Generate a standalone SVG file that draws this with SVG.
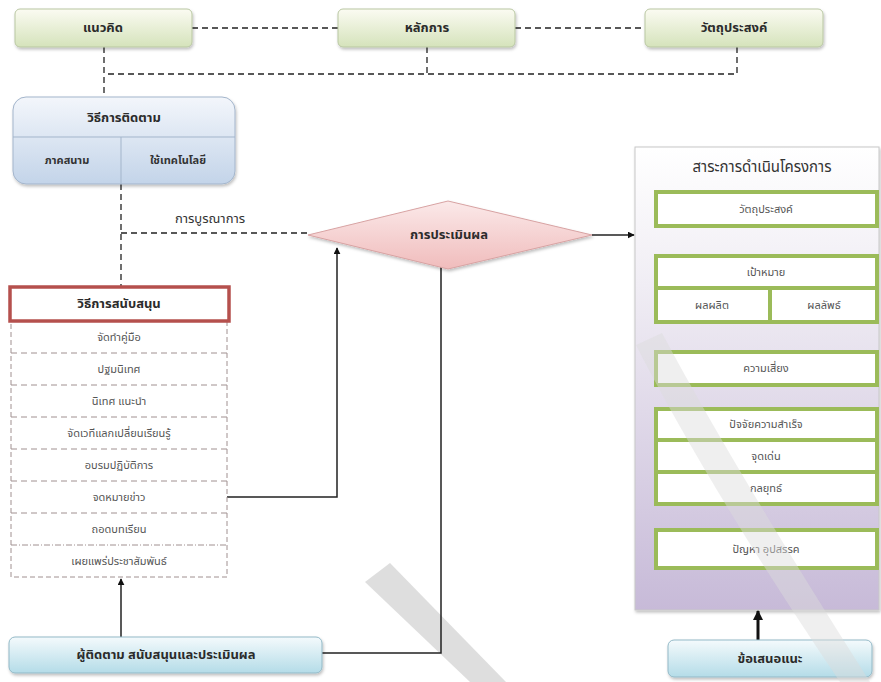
<svg xmlns="http://www.w3.org/2000/svg" width="881" height="682" viewBox="0 0 881 682">
<defs>
<linearGradient id="gGreen" x1="0" y1="0" x2="0" y2="1"><stop offset="0" stop-color="#fbfbf2"/><stop offset="1" stop-color="#d5e3bb"/></linearGradient>
<linearGradient id="gBlue" x1="0" y1="0" x2="0" y2="1"><stop offset="0" stop-color="#f3f6fb"/><stop offset="1" stop-color="#c3d4e9"/></linearGradient>
<linearGradient id="gCyan" x1="0" y1="0" x2="0" y2="1"><stop offset="0" stop-color="#f4fafc"/><stop offset="1" stop-color="#b4dce8"/></linearGradient>
<linearGradient id="gPink" x1="0" y1="0" x2="0" y2="1"><stop offset="0" stop-color="#fbe9e9"/><stop offset="1" stop-color="#f0bcbc"/></linearGradient>
<linearGradient id="gPanel" x1="0" y1="0" x2="0" y2="1"><stop offset="0" stop-color="#ffffff"/><stop offset="0.3" stop-color="#f0edf4"/><stop offset="1" stop-color="#c7bad8"/></linearGradient>
<marker id="arr" viewBox="0 0 10 10" refX="9" refY="5" markerWidth="7" markerHeight="7" orient="auto" markerUnits="userSpaceOnUse"><path d="M0,0 L10,5 L0,10 z" fill="#111"/></marker>
<marker id="arrB" viewBox="0 0 10 10" refX="9" refY="5" markerWidth="10" markerHeight="10" orient="auto" markerUnits="userSpaceOnUse"><path d="M0,0 L10,5 L0,10 z" fill="#111"/></marker>
<filter id="sh" x="-10%" y="-10%" width="130%" height="140%"><feDropShadow dx="1" dy="2" stdDeviation="1.5" flood-color="#000" flood-opacity="0.25"/></filter>
</defs>
<style>
text{font-family:"Noto Sans Thai","Noto Sans","DejaVu Sans",sans-serif;fill:#333;text-anchor:middle;dominant-baseline:central}
.b{font-weight:bold;font-size:13px;fill:#2b2b2b}
.s{font-size:11px;fill:#555}
.sb{font-size:11px;font-weight:bold;fill:#333}
.dash{fill:none;stroke:#222;stroke-width:1.3;stroke-dasharray:6,4}
.ln{fill:none;stroke:#222;stroke-width:1.5}
.topbox{fill:url(#gGreen);stroke:#b9c7a2;stroke-width:1}
.gbox{fill:#fff;stroke:#9bbb59;stroke-width:4}
.gl{stroke:#9bbb59;stroke-width:4}
</style>

<g id="watermark" fill="#d0d0d0" opacity="0.7">
<polygon points="365,582 390,563 506,682 470,682"/>
</g>

<g id="panel">
<rect x="635" y="147" width="244" height="463" fill="url(#gPanel)" stroke="#c8c8c8" stroke-width="1" filter="url(#sh)"/>
<text x="762" y="167" style="font-size:15px;fill:#333">สาระการดำเนินโครงการ</text>
</g>
<g id="p-objective"><rect class="gbox" x="656" y="192" width="221" height="34"/><text class="s" x="766" y="209">วัตถุประสงค์</text></g>
<g id="p-goal">
<rect class="gbox" x="656" y="256" width="221" height="66"/>
<line class="gl" x1="656" y1="288" x2="877" y2="288"/>
<line class="gl" x1="770" y1="288" x2="770" y2="322"/>
<text class="s" x="766" y="272">เป้าหมาย</text>
<text class="s" x="712" y="305">ผลผลิต</text>
<text class="s" x="824" y="305">ผลลัพธ์</text>
</g>
<g id="p-risk"><rect class="gbox" x="656" y="352" width="221" height="33"/><text class="s" x="766" y="368">ความเสี่ยง</text></g>
<g id="p-success">
<rect class="gbox" x="656" y="409" width="221" height="95"/>
<line class="gl" x1="656" y1="440" x2="877" y2="440"/>
<line class="gl" x1="656" y1="472" x2="877" y2="472"/>
<text class="s" x="766" y="424">ปัจจัยความสำเร็จ</text>
<text class="s" x="766" y="456">จุดเด่น</text>
<text class="s" x="766" y="488">กลยุทธ์</text>
</g>
<g id="p-problem"><rect class="gbox" x="656" y="530" width="221" height="38"/><text class="s" x="766" y="549">ปัญหา อุปสรรค</text></g>

<g id="connectors">
<line class="dash" x1="192" y1="28" x2="338" y2="28"/>
<line class="dash" x1="515" y1="28" x2="645" y2="28"/>
<polyline class="dash" points="427,47 427,74 104,74"/>
<polyline class="dash" points="737,47 737,74 427,74"/>
<line class="dash" x1="104" y1="47" x2="104" y2="97"/>
<line class="dash" x1="121" y1="184" x2="121" y2="286"/>
<line class="dash" x1="121" y1="233" x2="308" y2="233"/>
<line class="ln" x1="592" y1="235" x2="634" y2="235" marker-end="url(#arr)"/>
<polyline class="ln" points="227,497 337,497 337,248" marker-end="url(#arr)"/>
<polyline class="ln" points="441,266 441,653 322,653"/>
<line class="ln" x1="121" y1="637" x2="121" y2="579" marker-end="url(#arr)"/>
<line x1="758" y1="640" x2="758" y2="611" stroke="#111" stroke-width="3" marker-end="url(#arrB)"/>
</g>

<g id="n-concept"><rect class="topbox" x="15" y="9" width="177" height="38" rx="5" filter="url(#sh)"/><text class="b" x="103" y="28">แนวคิด</text></g>
<g id="n-principle"><rect class="topbox" x="338" y="9" width="177" height="38" rx="5" filter="url(#sh)"/><text class="b" x="427" y="28">หลักการ</text></g>
<g id="n-objective"><rect class="topbox" x="645" y="9" width="178" height="38" rx="5" filter="url(#sh)"/><text class="b" x="734" y="28">วัตถุประสงค์</text></g>

<g id="n-monitor">
<rect x="13" y="97" width="222" height="87" rx="13" fill="url(#gBlue)" stroke="#a3b5cb" stroke-width="1" filter="url(#sh)"/>
<line x1="13" y1="137" x2="235" y2="137" stroke="#a3b5cb"/>
<line x1="121" y1="137" x2="121" y2="184" stroke="#a3b5cb"/>
<text class="b" x="124" y="118">วิธีการติดตาม</text>
<text class="sb" x="67" y="160">ภาคสนาม</text>
<text class="sb" x="178" y="160">ใช้เทคโนโลยี</text>
</g>

<g id="label-integration"><text x="210" y="219" style="font-size:13px;fill:#333">การบูรณาการ</text></g>

<g id="n-evaluate">
<polygon points="308,235 448,201 592,235 448,269" fill="url(#gPink)" stroke="#d8a3a3" stroke-width="1" filter="url(#sh)"/>
<text class="b" x="449" y="235">การประเมินผล</text>
</g>

<g id="n-support">
<rect x="11" y="321" width="216" height="256" fill="#fff" stroke="#a09090" stroke-width="1" stroke-dasharray="5,3"/>
<g stroke="#a09090" stroke-width="1" stroke-dasharray="6,4">
<line x1="11" y1="353" x2="227" y2="353"/>
<line x1="11" y1="385" x2="227" y2="385"/>
<line x1="11" y1="417" x2="227" y2="417"/>
<line x1="11" y1="449" x2="227" y2="449"/>
<line x1="11" y1="481" x2="227" y2="481"/>
<line x1="11" y1="513" x2="227" y2="513"/>
<line x1="11" y1="545" x2="227" y2="545" stroke-dasharray="6,2,1,2"/>
</g>
<rect x="10" y="287" width="219" height="34" fill="#fff" stroke="#b5504d" stroke-width="3.5"/>
<text class="b" x="119" y="304">วิธีการสนับสนุน</text>
<text class="s" x="119" y="337">จัดทำคู่มือ</text>
<text class="s" x="119" y="369">ปฐมนิเทศ</text>
<text class="s" x="119" y="401">นิเทศ แนะนำ</text>
<text class="s" x="119" y="433">จัดเวทีแลกเปลี่ยนเรียนรู้</text>
<text class="s" x="119" y="465">อบรมปฏิบัติการ</text>
<text class="s" x="119" y="497">จดหมายข่าว</text>
<text class="s" x="119" y="529">ถอดบทเรียน</text>
<text class="s" x="119" y="561">เผยแพร่ประชาสัมพันธ์</text>
</g>

<g id="n-staff"><rect x="9" y="637" width="313" height="36" rx="6" fill="url(#gCyan)" stroke="#93b9c7" stroke-width="1" filter="url(#sh)"/><text class="b" x="166" y="655">ผู้ติดตาม สนับสนุนและประเมินผล</text></g>
<g id="n-suggest"><rect x="668" y="640" width="204" height="37" rx="6" fill="url(#gCyan)" stroke="#93b9c7" stroke-width="1" filter="url(#sh)"/><text class="b" x="770" y="659">ข้อเสนอแนะ</text></g>

<g id="watermark2">
<path d="M636,345 L662,333 Q735,470 870,682 L840,682 Q710,490 636,345 Z" fill="#dcdcdc" opacity="0.45"/>
</g>
</svg>
